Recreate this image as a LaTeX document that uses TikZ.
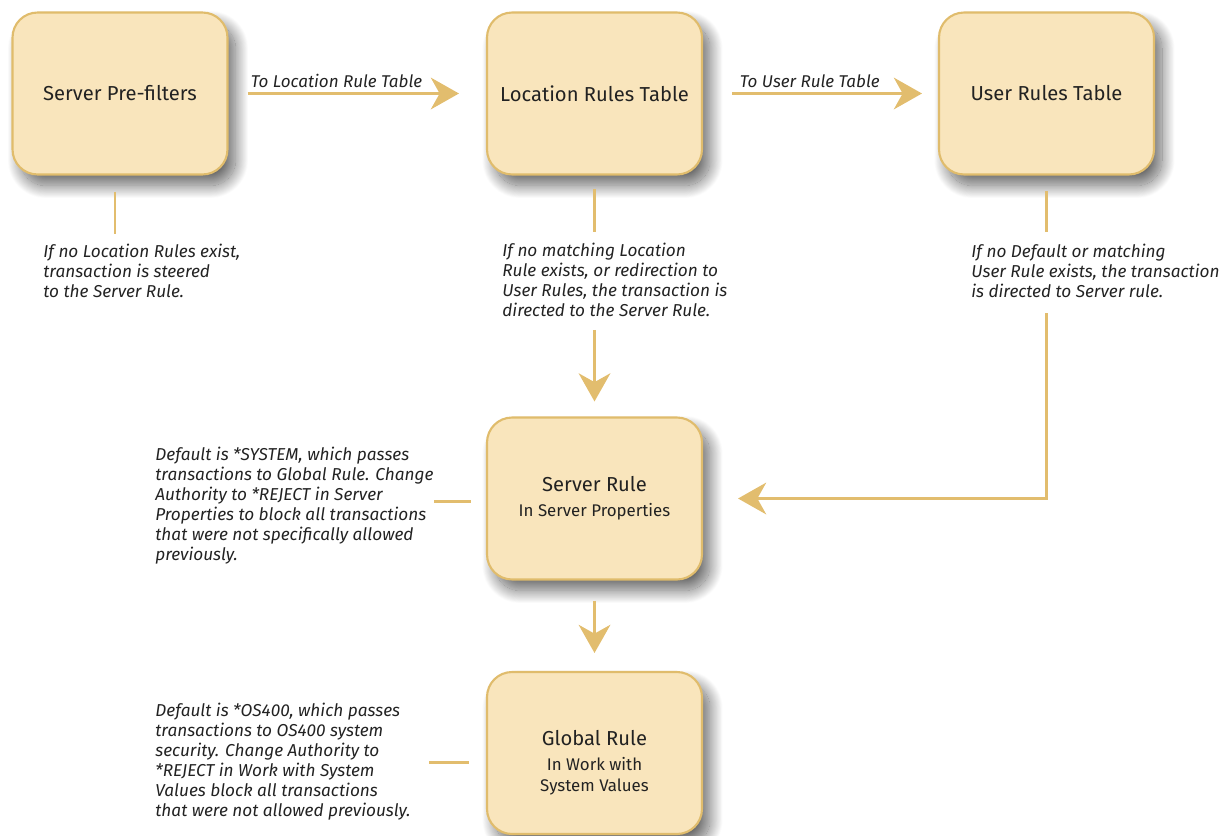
\documentclass[tikz,border=0pt]{standalone}
\usepackage{fontspec}
\setmainfont{Fira Sans}
\usetikzlibrary{arrows.meta,positioning,shadows.blur,calc}
\definecolor{boxfill}{HTML}{F9E5BC}
\definecolor{boxline}{HTML}{E0BC6C}
\definecolor{flowcol}{HTML}{E2BD6E}
\definecolor{txt}{HTML}{222222}
\newcommand{\subfont}{\fontsize{9.6}{12}\selectfont}
\tikzset{
  rulebox/.style={draw=boxline, fill=boxfill, line width=1.2pt, rounded corners=0.5cm,
    minimum width=4.3cm, minimum height=3.24cm, align=center, text=txt,
    font=\fontsize{11.5}{14}\selectfont,
    blur shadow={shadow xshift=0.16cm, shadow yshift=-0.22cm, shadow blur radius=0.26cm,
      shadow blur steps=30, shadow opacity=60}},
  note/.style={align=left, anchor=north west, inner sep=0pt, text=txt,
    font=\fontsize{9.8}{11.4}\selectfont\itshape},
  lbl/.style={inner sep=0pt, text=txt, font=\fontsize{9.7}{10}\selectfont\itshape},
  flow/.style={draw=flowcol, line width=1.7pt, -{Stealth[length=16pt,width=18pt,inset=5pt]}},
  tie/.style={draw=flowcol, line width=1.7pt},
}
\begin{document}
\begin{tikzpicture}[x=0.02cm, y=-0.02cm]
\useasboundingbox (0,0) rectangle (1230,835);
% rule tables
\node[rulebox] (pre) at (120,93.5) {Server Pre-filters};
\node[rulebox] (loc) at (594.5,93.5) {Location Rules Table};
\node[rulebox] (user) at (1046.5,93.5) {User Rules Table};
\node[rulebox] (srv) at (594.5,498.5) {Server Rule\\[0pt]\subfont In Server Properties};
\node[rulebox] (glb) at (594.5,753) {\rule{0pt}{20pt}Global Rule\\[0pt]\subfont In Work with\\[-2pt]\subfont System Values};
% notes
\node[note] (prenote) at (43,244) {If no Location Rules exist,\\transaction is steered\\to the Server Rule.};
\node[note] (locnote) at (502,243) {If no matching Location\\Rule exists, or redirection to\\User Rules, the transaction is\\directed to the Server Rule.};
\node[note] (usernote) at (971,244) {If no Default or matching\\User Rule exists, the transaction\\is directed to Server rule.};
\node[note] (srvnote) at (155,447) {Default is *SYSTEM, which passes\\transactions to Global Rule. Change\\Authority to *REJECT in Server\\Properties to block all transactions\\that were not specifically allowed\\previously.};
\node[note] (glbnote) at (155,703) {Default is *OS400, which passes\\transactions to OS400 system\\security. Change Authority to\\*REJECT in Work with System\\Values block all transactions\\that were not allowed previously.};
% arrow labels
\node[lbl, above right=0.11cm and 0.44cm of pre.east] (tolocl) {To Location Rule Table};
\node[lbl, above right=0.11cm and 0.73cm of loc.east] (touserl) {To User Rule Table};
% connectors
\draw[flow, shorten <=0.38cm, shorten >=0.54cm] (pre.east) -- (loc.west);
\draw[flow, shorten <=0.58cm, shorten >=0.32cm] (loc.east) -- (user.west);
\draw[tie, shorten <=0.32cm, shorten >=0.2cm] ([xshift=-0.1cm]pre.south) -- ([xshift=-0.1cm]pre.south |- prenote.north);
\draw[tie, shorten <=0.26cm, shorten >=0.22cm] (loc.south) -- (loc.south |- locnote.north);
\draw[tie, shorten <=0.3cm, shorten >=0.24cm] (user.south) -- (user.south |- usernote.north);
\draw[flow, shorten <=0.25cm, shorten >=0.3cm] (locnote.south -| srv.north) -- (srv.north);
\draw[flow, shorten <=0.3cm, shorten >=0.7cm] (usernote.south -| user.south) |- (srv.east);
\draw[flow, shorten <=0.4cm, shorten >=0.36cm] (srv.south) -- (glb.north);
\draw[tie, shorten <=0.3cm] ([yshift=-0.06cm]srv.west) -- ([yshift=-0.06cm]srv.west -| srvnote.east);
\draw[tie, shorten <=0.34cm] ([yshift=-0.18cm]glb.west) -- ([xshift=0.36cm,yshift=-0.18cm]glb.west -| glbnote.east);
\end{tikzpicture}
\end{document}
